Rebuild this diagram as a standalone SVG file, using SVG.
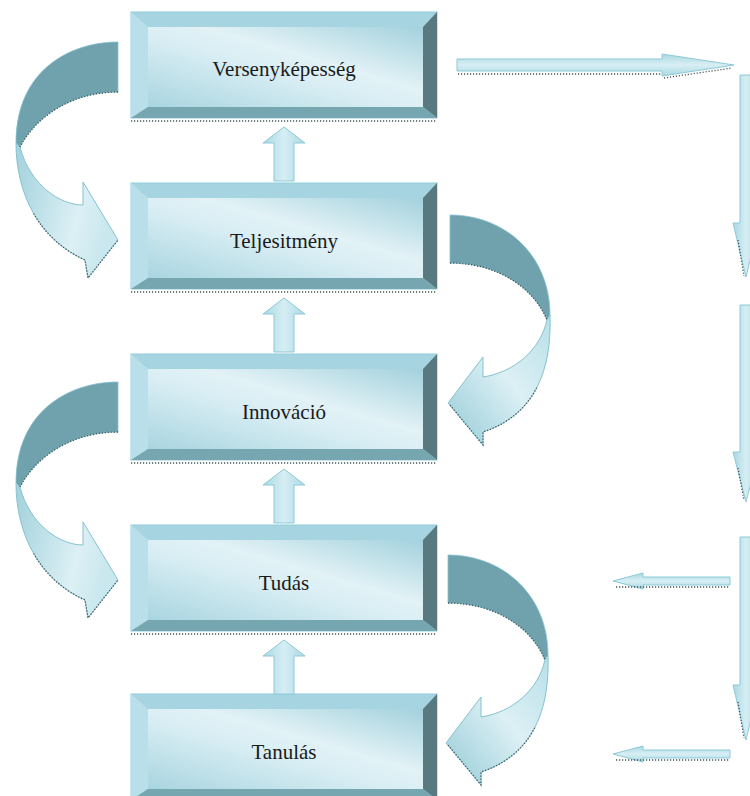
<svg xmlns="http://www.w3.org/2000/svg" xmlns:xlink="http://www.w3.org/1999/xlink" width="750" height="796" viewBox="0 0 750 796">
  <defs>
    <linearGradient id="faceGrad" x1="0" y1="1" x2="1" y2="0">
      <stop offset="0" stop-color="#a9d5e0"/>
      <stop offset="0.45" stop-color="#d9eef4"/>
      <stop offset="0.6" stop-color="#e2f2f6"/>
      <stop offset="1" stop-color="#a3d1dd"/>
    </linearGradient>
    <linearGradient id="shaftGrad" x1="0" y1="0" x2="1" y2="0">
      <stop offset="0" stop-color="#aad8e3"/>
      <stop offset="0.5" stop-color="#d6eef4"/>
      <stop offset="1" stop-color="#aad8e3"/>
    </linearGradient>
    <linearGradient id="shaftGradH" x1="0" y1="0" x2="0" y2="1">
      <stop offset="0" stop-color="#a9d7e2"/>
      <stop offset="0.5" stop-color="#d8eff4"/>
      <stop offset="1" stop-color="#a9d7e2"/>
    </linearGradient>
    <linearGradient id="ribbonL" x1="0" y1="0" x2="1" y2="0.3">
      <stop offset="0" stop-color="#a2d1dc"/>
      <stop offset="0.7" stop-color="#dcf0f5"/>
      <stop offset="1" stop-color="#c9e7ee"/>
    </linearGradient>
    <linearGradient id="ribbonR" x1="0" y1="1" x2="1" y2="0">
      <stop offset="0" stop-color="#96cbd7"/>
      <stop offset="0.55" stop-color="#dcf0f5"/>
      <stop offset="1" stop-color="#b8dfe8"/>
    </linearGradient>

    <!-- bevelled box, 306 x 106 -->
    <g id="bevelBox">
      <rect x="131" y="0" width="306" height="106" fill="#a6d5e1" stroke="#90ccd9" stroke-width="1"/>
      <polygon points="131,0 148,15 148,95 131,106" fill="#b9e0ea"/>
      <polygon points="437,0 437,106 423,95 423,15" fill="#58797f"/>
      <polygon points="131,106 148,95 423,95 437,106" fill="#76a7b1"/>
      <rect x="148" y="15" width="275" height="80" fill="url(#faceGrad)"/>
      <line x1="131" y1="109" x2="437" y2="109" class="dots"/>
    </g>

    <!-- block arrow pointing up, between boxes -->
    <path id="upArrow" d="M284,0 L305,16 L294,16 L294,54 L274,54 L274,16 L263,16 Z" fill="url(#shaftGrad)" stroke="#8ccad7" stroke-width="1"/>

    <!-- curling ribbon arrow on the left side -->
    <g id="curlLeft">
      <path d="M118,42 C70,42 16,70 16,143 L20,147 C35,118 70,92 118,92 Z" fill="#6fa2ad" stroke="#86c2cf" stroke-width="0.8"/>
      <path d="M16,143 C16,195 40,240 85,260 L88,278 L118,240 L83,182 L83,205 C60,205 30,185 20,147 Z" fill="url(#ribbonL)" stroke="#86c2cf" stroke-width="1"/>
      <path d="M118,92 C70,92 35,118 20,147" class="dots"/>
      <path d="M33.6,213.5 C45.25,233.75 62.5,250 85,260 L88,278 L118,240" class="dots"/>
    </g>

    <!-- curling ribbon arrow on the right side -->
    <g id="curlRight">
      <path d="M450,215 C505,215 550,255 550,315 L547,320 C535,290 500,263 450,263 Z" fill="#6fa2ad" stroke="#86c2cf" stroke-width="0.8"/>
      <path d="M550,315 C552,370 535,415 483,432 L483,445 L448,403 L483,357 L483,377 C515,372 540,350 547,320 Z" fill="url(#ribbonR)" stroke="#86c2cf" stroke-width="1"/>
      <path d="M450,263 C500,263 535,290 547,320" class="dots"/>
      <path d="M536.75,387.75 C526.25,408 509,423.5 483,432 L483,445 L450,405" class="dots"/>
    </g>
  </defs>

  <style>
    .label { font-family: "Liberation Serif", "Times New Roman", serif; font-size: 21px; fill: #1a1a1a; text-anchor: middle; }
    .dots { fill: none; stroke: #3f5559; stroke-width: 1.3; stroke-dasharray: 1.2 1.8; }
    .thin { fill: url(#shaftGradH); stroke: #8ccad7; stroke-width: 1; }
    .thinV { fill: url(#shaftGrad); stroke: #8ccad7; stroke-width: 1; }
  </style>

  <!-- nodes -->
  <g id="node-versenykepesseg">
    <use xlink:href="#bevelBox" href="#bevelBox" transform="translate(0,12)"/>
    <text class="label" x="284" y="76">Versenyképesség</text>
  </g>
  <g id="node-teljesitmeny">
    <use xlink:href="#bevelBox" href="#bevelBox" transform="translate(0,183)"/>
    <text class="label" x="284" y="248">Teljesitmény</text>
  </g>
  <g id="node-innovacio">
    <use xlink:href="#bevelBox" href="#bevelBox" transform="translate(0,354)"/>
    <text class="label" x="284" y="419">Innováció</text>
  </g>
  <g id="node-tudas">
    <use xlink:href="#bevelBox" href="#bevelBox" transform="translate(0,525)"/>
    <text class="label" x="284" y="590">Tudás</text>
  </g>
  <g id="node-tanulas">
    <use xlink:href="#bevelBox" href="#bevelBox" transform="translate(0,694)"/>
    <text class="label" x="284" y="759">Tanulás</text>
  </g>

  <!-- connectors -->
  <g id="connectors">
    <!-- upward flow between the boxes -->
    <use xlink:href="#upArrow" href="#upArrow" transform="translate(0,127)"/>
    <use xlink:href="#upArrow" href="#upArrow" transform="translate(0,298)"/>
    <use xlink:href="#upArrow" href="#upArrow" transform="translate(0,469)"/>
    <use xlink:href="#upArrow" href="#upArrow" transform="translate(0,640)"/>

    <!-- feedback loops -->
    <use xlink:href="#curlLeft" href="#curlLeft"/>
    <use xlink:href="#curlLeft" href="#curlLeft" transform="translate(0,340)"/>
    <use xlink:href="#curlRight" href="#curlRight"/>
    <use xlink:href="#curlRight" href="#curlRight" transform="translate(-2,340)"/>

    <!-- outer loop on the right -->
    <path class="thin" d="M457,59 L662,59 L662,54 L734,65 L662,76 L662,71 L457,71 Z"/>
    <line class="dots" x1="458" y1="74" x2="662" y2="74"/>
    <path class="dots" d="M664,78 L732,68"/>

    <path class="thinV" d="M740,75 L752,75 L752,223 L759,223 L746,277 L733,223 L740,223 Z"/>
    <path class="thinV" d="M740,305 L752,305 L752,452 L759,452 L746,502 L733,452 L740,452 Z"/>
    <path class="thinV" d="M740,537 L752,537 L752,685 L759,685 L746,740 L733,685 L740,685 Z"/>
    <path class="dots" d="M738,240 L744,276 M738,468 L744,500 M738,702 L744,738"/>

    <path class="thin" d="M730,577 L730,585 L643,585 L643,589 L613,581 L643,573 L643,577 Z"/>
    <line class="dots" x1="616" y1="587" x2="730" y2="587"/>
    <path class="thin" d="M730,750 L730,758 L643,758 L643,762 L613,754 L643,746 L643,750 Z"/>
    <line class="dots" x1="616" y1="760" x2="730" y2="760"/>
  </g>
</svg>
